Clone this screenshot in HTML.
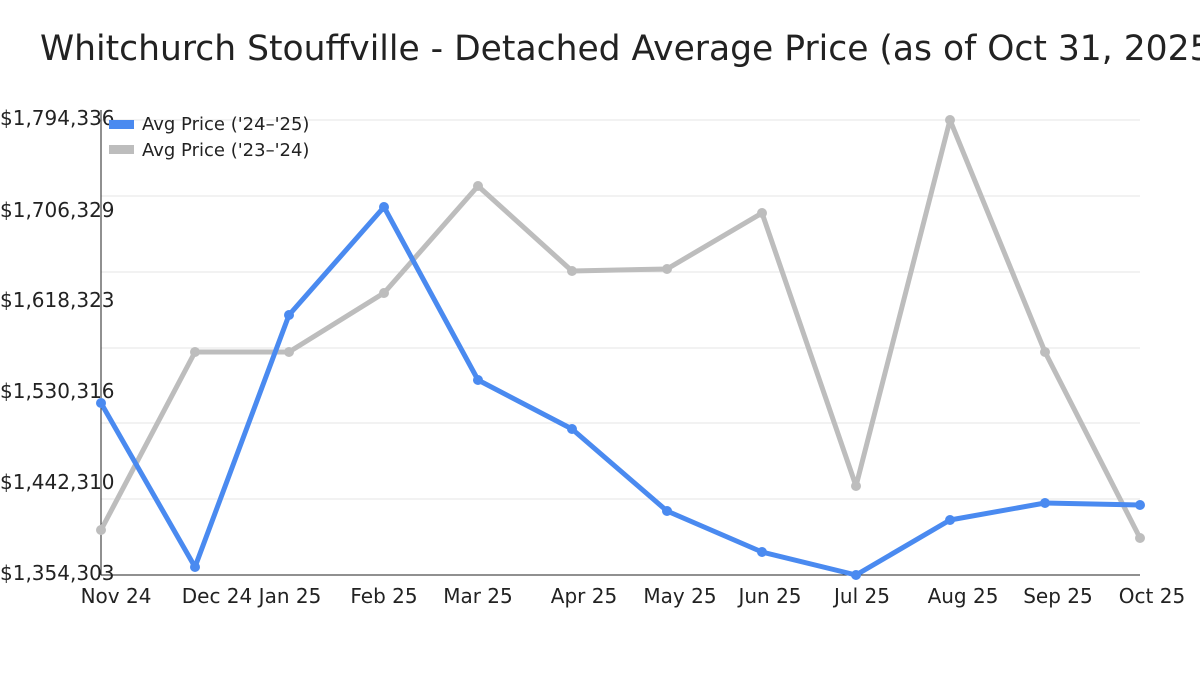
<!DOCTYPE html>
<html><head><meta charset="utf-8"><style>
html,body{margin:0;padding:0;background:#fff;width:1200px;height:675px;overflow:hidden}
svg text{font-family:"DejaVu Sans","Liberation Sans",sans-serif;fill:#222}
</style></head><body>
<svg width="1200" height="675" viewBox="0 0 1200 675" xmlns="http://www.w3.org/2000/svg">
<text x="40" y="60" font-size="35" textLength="1185" lengthAdjust="spacingAndGlyphs">Whitchurch Stouffville - Detached Average Price (as of Oct 31, 2025)</text>
<g stroke="#e6e6e6" stroke-width="1">
<line x1="101" x2="1140" y1="120" y2="120"/><line x1="101" x2="1140" y1="196" y2="196"/>
<line x1="101" x2="1140" y1="272" y2="272"/><line x1="101" x2="1140" y1="348" y2="348"/>
<line x1="101" x2="1140" y1="423" y2="423"/><line x1="101" x2="1140" y1="499" y2="499"/>
</g>
<line x1="101" x2="101" y1="110" y2="575" stroke="#222" stroke-width="1"/>
<line x1="101" x2="1140" y1="575" y2="575" stroke="#222" stroke-width="1"/>
<g font-size="20">
<text x="0" y="125">$1,794,336</text><text x="0" y="217">$1,706,329</text>
<text x="0" y="307">$1,618,323</text><text x="0" y="398">$1,530,316</text>
<text x="0" y="489">$1,442,310</text><text x="0" y="580">$1,354,303</text>
</g>
<g font-size="20" text-anchor="middle">
<text x="116" y="603">Nov 24</text><text x="217" y="603">Dec 24</text><text x="290" y="603">Jan 25</text>
<text x="384" y="603">Feb 25</text><text x="478" y="603">Mar 25</text><text x="584" y="603">Apr 25</text>
<text x="680" y="603">May 25</text><text x="770" y="603">Jun 25</text><text x="862" y="603">Jul 25</text>
<text x="963" y="603">Aug 25</text><text x="1058" y="603">Sep 25</text><text x="1152" y="603">Oct 25</text>
</g>
<polyline fill="none" stroke="#bdbdbd" stroke-width="5" stroke-linejoin="round" points="101,530 195,352 289,352 384,293 478,186 572,271 667,269 762,213 856,486 950,120 1045,352 1140,538"/>
<g fill="#bdbdbd">
<circle cx="101" cy="530" r="5"/><circle cx="195" cy="352" r="5"/><circle cx="289" cy="352" r="5"/><circle cx="384" cy="293" r="5"/><circle cx="478" cy="186" r="5"/><circle cx="572" cy="271" r="5"/><circle cx="667" cy="269" r="5"/><circle cx="762" cy="213" r="5"/><circle cx="856" cy="486" r="5"/><circle cx="950" cy="120" r="5"/><circle cx="1045" cy="352" r="5"/><circle cx="1140" cy="538" r="5"/>
</g>
<polyline fill="none" stroke="#4a8af0" stroke-width="5" stroke-linejoin="round" points="101,403 195,567 289,315 384,207 478,380 572,429 667,511 762,552 856,575 950,520 1045,503 1140,505"/>
<g fill="#4a8af0">
<circle cx="101" cy="403" r="5"/><circle cx="195" cy="567" r="5"/><circle cx="289" cy="315" r="5"/><circle cx="384" cy="207" r="5"/><circle cx="478" cy="380" r="5"/><circle cx="572" cy="429" r="5"/><circle cx="667" cy="511" r="5"/><circle cx="762" cy="552" r="5"/><circle cx="856" cy="575" r="5"/><circle cx="950" cy="520" r="5"/><circle cx="1045" cy="503" r="5"/><circle cx="1140" cy="505" r="5"/>
</g>
<rect x="109" y="120" width="25" height="9" fill="#4a8af0"/>
<rect x="109" y="145" width="25" height="9" fill="#bdbdbd"/>
<g font-size="18"><text x="142" y="130">Avg Price ('24–'25)</text><text x="142" y="156">Avg Price ('23–'24)</text></g>
</svg>
</body></html>
